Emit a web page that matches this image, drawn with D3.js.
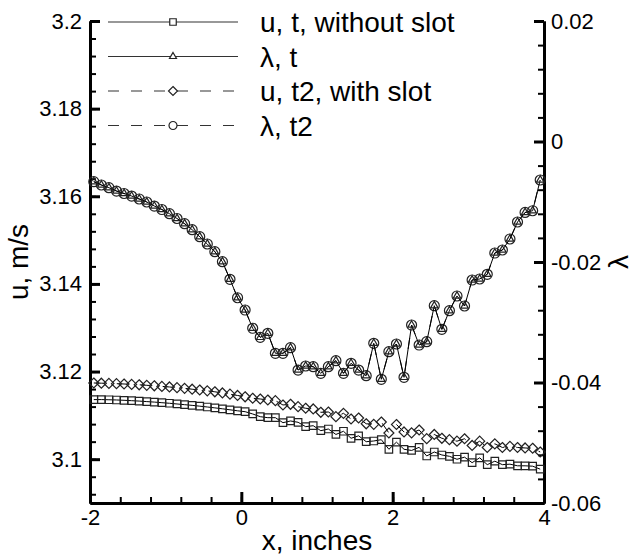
<!DOCTYPE html>
<html>
<head>
<meta charset="utf-8">
<script src="https://cdn.jsdelivr.net/npm/d3@7"></script>
<style>
  html, body { margin: 0; padding: 0; background: #fff; }
  svg { display: block; font-family: "Liberation Sans", Arial, sans-serif; }
</style>
</head>
<body>
<svg id="chart" width="639" height="556"></svg>
<script>
// ---------------- data ----------------
const xValues = [-1.95,-1.85,-1.75,-1.65,-1.55,-1.45,-1.35,-1.25,-1.15,-1.05,
  -0.95,-0.85,-0.75,-0.65,-0.55,-0.45,-0.35,-0.25,-0.15,-0.05,
  0.05,0.15,0.25,0.35,0.45,0.55,0.65,0.75,0.85,0.95,
  1.05,1.15,1.25,1.35,1.45,1.55,1.65,1.75,1.85,1.95,
  2.05,2.15,2.25,2.35,2.45,2.55,2.65,2.75,2.85,2.95,
  3.05,3.15,3.25,3.35,3.45,3.55,3.65,3.75,3.85,3.95];

// u, t, without slot (left axis)
const uT = [3.1136,3.1136,3.11356,3.11351,3.11344,3.11335,3.11326,3.11314,3.11303,3.11289,
  3.11276,3.1126,3.11244,3.11228,3.1121,3.11191,3.11171,3.1115,3.11127,3.11104,
  3.11084,3.11032,3.1097,3.10947,3.10947,3.10833,3.10872,3.10842,3.10742,3.10764,
  3.1065,3.10689,3.10564,3.10637,3.10477,3.10534,3.10399,3.10415,3.10445,3.10226,
  3.10388,3.10226,3.10199,3.10271,3.10073,3.10164,3.10096,3.10066,3.09998,3.10046,
  3.0992,3.10032,3.09875,3.09954,3.09875,3.09886,3.09849,3.09849,3.0984,3.09772];

// u, t2, with slot (left axis)
const uT2 = [3.11739,3.11734,3.1173,3.11723,3.11716,3.11707,3.11698,3.11686,3.11675,3.11661,
  3.11648,3.11632,3.11616,3.11597,3.11579,3.11559,3.11538,3.11511,3.11483,3.11454,
  3.11424,3.1139,3.11374,3.11351,3.11335,3.11237,3.11253,3.11198,3.11162,3.11146,
  3.1107,3.11077,3.1097,3.11047,3.10917,3.1094,3.10808,3.10796,3.10849,3.10598,
  3.10792,3.10621,3.10602,3.10666,3.10468,3.10564,3.10477,3.10445,3.10411,3.10466,
  3.10313,3.10411,3.10267,3.10351,3.10267,3.10294,3.10267,3.10256,3.10249,3.10164];

// λ, t (right axis)
const lambdaT = [-0.00667,-0.00722,-0.00767,-0.00822,-0.00863,-0.00905,-0.00954,-0.01004,-0.01071,-0.01129,
  -0.01198,-0.01278,-0.01364,-0.01464,-0.0158,-0.01701,-0.01829,-0.01995,-0.02287,-0.02593,
  -0.02797,-0.031,-0.0325,-0.03183,-0.03515,-0.03515,-0.03422,-0.03793,-0.03726,-0.03738,
  -0.03847,-0.03738,-0.03638,-0.03847,-0.03681,-0.03793,-0.03887,-0.03349,-0.03947,-0.03489,
  -0.03361,-0.03914,-0.03046,-0.03378,-0.03323,-0.02725,-0.03117,-0.02808,-0.02564,-0.0273,
  -0.02299,-0.02282,-0.02204,-0.01851,-0.01801,-0.01618,-0.01336,-0.01178,-0.01149,-0.00639];

// λ, t2 (right axis) — coincides with λ, t in the picture
const lambdaT2 = [-0.00667,-0.00722,-0.00767,-0.00822,-0.00863,-0.00905,-0.00954,-0.01004,-0.01071,-0.01129,
  -0.01198,-0.01278,-0.01364,-0.01464,-0.0158,-0.01701,-0.01829,-0.01995,-0.02287,-0.02593,
  -0.02797,-0.031,-0.0325,-0.03183,-0.03515,-0.03515,-0.03422,-0.03793,-0.03726,-0.03738,
  -0.03847,-0.03738,-0.03638,-0.03847,-0.03681,-0.03793,-0.03887,-0.03349,-0.03947,-0.03489,
  -0.03361,-0.03914,-0.03046,-0.03378,-0.03323,-0.02725,-0.03117,-0.02808,-0.02564,-0.0273,
  -0.02299,-0.02282,-0.02204,-0.01851,-0.01801,-0.01618,-0.01336,-0.01178,-0.01149,-0.00639];

const xTickValues = [-2, 0, 2, 4];
const xTickLabels = ["-2", "0", "2", "4"];
const leftTickValues = [3.1, 3.12, 3.14, 3.16, 3.18, 3.2];
const leftTickLabels = ["3.1", "3.12", "3.14", "3.16", "3.18", "3.2"];
const rightTickValues = [-0.06, -0.04, -0.02, 0, 0.02];
const rightTickLabels = ["-0.06", "-0.04", "-0.02", "0", "0.02"];

const legendLabels = ["u, t, without slot", "\u03bb, t", "u, t2, with slot", "\u03bb, t2"];
const xTitle = "x, inches";
const leftTitle = "u, m/s";
const rightTitle = "\u03bb";

// ---------------- layout ----------------
const svg = d3.select("#chart");
const X0 = 90, X1 = 544, Y0 = 21, Y1 = 503;
const x = d3.scaleLinear().domain([-2, 4]).range([X0, X1]);
const yL = d3.scaleLinear().domain([3.09, 3.2]).range([Y1, Y0]);
const yR = d3.scaleLinear().domain([-0.06, 0.02]).range([Y1, Y0]);

const tickFont = 22;

function minorVals(lo, hi, step) {
  const out = [];
  const n = Math.round((hi - lo) / step);
  for (let i = 0; i <= n; i++) out.push(+(lo + i * step).toFixed(6));
  return out;
}

function styleAxis(g, major) {
  g.select(".domain").attr("stroke", "#000").attr("stroke-width", 3);
  g.selectAll(".tick line").attr("stroke", "#000").attr("stroke-width", major ? 3 : 2);
  g.selectAll(".tick text").attr("font-size", tickFont).attr("fill", "#000")
    .attr("font-family", '"Liberation Sans", Arial, sans-serif');
}

// minor ticks
const gxm = svg.append("g").attr("transform", `translate(0,${Y1})`)
  .call(d3.axisBottom(x).tickValues(minorVals(-2, 4, 0.4)).tickSize(-6).tickSizeOuter(0).tickFormat(""));
styleAxis(gxm, false);
const gylm = svg.append("g").attr("transform", `translate(${X0},0)`)
  .call(d3.axisLeft(yL).tickValues(minorVals(3.092, 3.2, 0.004)).tickSize(-6).tickSizeOuter(0).tickFormat(""));
styleAxis(gylm, false);
const gyrm = svg.append("g").attr("transform", `translate(${X1},0)`)
  .call(d3.axisRight(yR).tickValues(minorVals(-0.06, 0.02, 0.004)).tickSize(-6).tickSizeOuter(0).tickFormat(""));
styleAxis(gyrm, false);

// major ticks
const gx = svg.append("g").attr("transform", `translate(0,${Y1})`)
  .call(d3.axisBottom(x).tickValues(xTickValues).tickSize(-11).tickSizeOuter(0).tickPadding(6)
    .tickFormat((d, i) => xTickLabels[i]));
styleAxis(gx, true);
const gyl = svg.append("g").attr("transform", `translate(${X0},0)`)
  .call(d3.axisLeft(yL).tickValues(leftTickValues).tickSize(-10).tickSizeOuter(0).tickPadding(8)
    .tickFormat((d, i) => leftTickLabels[i]));
styleAxis(gyl, true);
const gyr = svg.append("g").attr("transform", `translate(${X1},0)`)
  .call(d3.axisRight(yR).tickValues(rightTickValues).tickSize(-10).tickSizeOuter(0).tickPadding(7)
    .tickFormat((d, i) => rightTickLabels[i]));
styleAxis(gyr, true);

// axis titles
svg.append("text").attr("x", 317).attr("y", 550).attr("text-anchor", "middle")
  .attr("font-size", 28).text(xTitle);
svg.append("text").attr("transform", "translate(28,262) rotate(-90)").attr("text-anchor", "middle")
  .attr("font-size", 28).text(leftTitle);
svg.append("text").attr("transform", "translate(628,262) rotate(-90)").attr("text-anchor", "middle")
  .attr("font-size", 28).text(rightTitle);

// ---------------- markers ----------------
function squarePath(s) { const h = s / 2; return `M${-h},${-h}H${h}V${h}H${-h}Z`; }
function diamondPath(r) { return `M0,${-r}L${r},0L0,${r}L${-r},0Z`; }
function trianglePath(s) { const h = s * Math.sqrt(3) / 2; return `M0,${-h * 2 / 3}L${s / 2},${h / 3}L${-s / 2},${h / 3}Z`; }
function circlePath(r) { return `M${r},0A${r},${r} 0 1,1 ${-r},0A${r},${r} 0 1,1 ${r},0Z`; }

const series = [
  { vals: uT, y: yL, dash: null, marker: squarePath(7.5), lm: squarePath(6.5), stroke: "#222" },
  { vals: lambdaT, y: yR, dash: null, marker: trianglePath(7.5), lm: trianglePath(7), stroke: "#222" },
  { vals: uT2, y: yL, dash: "11,12", marker: diamondPath(5), lm: diamondPath(4.5), stroke: "#222" },
  { vals: lambdaT2, y: yR, dash: "11,12", marker: circlePath(5), lm: circlePath(4), stroke: "#222" }
];

const plot = svg.append("g");
const drawOrder = [0, 2, 3, 1];
drawOrder.forEach(k => {
  const s = series[k];
  const pts = xValues.map((xv, i) => [x(xv), s.y(s.vals[i])]);
  plot.append("path").attr("d", d3.line()(pts)).attr("fill", "none")
    .attr("stroke", "#000").attr("stroke-width", 1)
    .attr("stroke-dasharray", s.dash);
  plot.append("g").selectAll("path").data(pts).join("path")
    .attr("transform", d => `translate(${d[0]},${d[1]})`)
    .attr("d", s.marker).attr("fill", "none").attr("stroke", s.stroke).attr("stroke-width", 1.2);
});

// ---------------- legend ----------------
const legendY = [22, 56.5, 91, 125.5];
const legend = svg.append("g");
series.forEach((s, k) => {
  const yy = legendY[k];
  legend.append("line").attr("x1", 108).attr("x2", 238).attr("y1", yy).attr("y2", yy)
    .attr("stroke", "#333").attr("stroke-width", 1.2).attr("stroke-dasharray", s.dash);
  legend.append("path").attr("transform", `translate(173,${yy})`).attr("d", s.lm)
    .attr("fill", "#fff").attr("stroke", "#222").attr("stroke-width", 1.2);
  legend.append("text").attr("x", 260).attr("y", yy + 10).attr("font-size", 28)
    .text(legendLabels[k]);
});
</script>
</body>
</html>
